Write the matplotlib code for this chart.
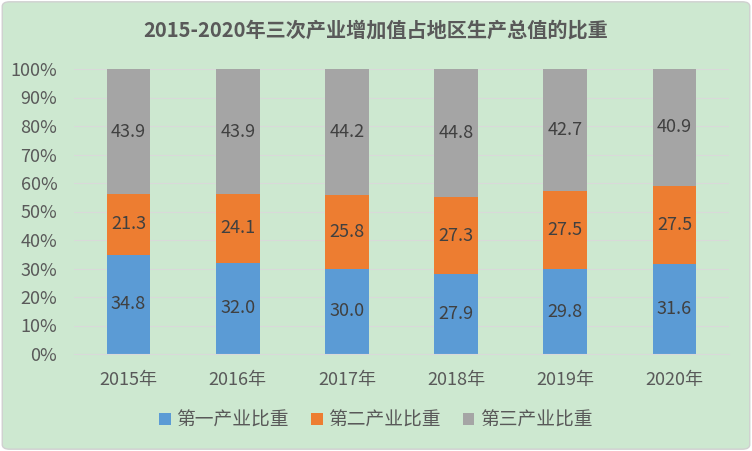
import matplotlib
matplotlib.use('Agg')
import matplotlib.pyplot as plt
import numpy as np
from matplotlib.patches import FancyBboxPatch

plt.rcParams['font.family'] = ['Noto Sans CJK SC', 'DejaVu Sans']

years = ['2015年', '2016年', '2017年', '2018年', '2019年', '2020年']
first = [34.8, 32.0, 30.0, 27.9, 29.8, 31.6]
second = [21.3, 24.1, 25.8, 27.3, 27.5, 27.5]
third = [43.9, 43.9, 44.2, 44.8, 42.7, 40.9]
names = ['第一产业比重', '第二产业比重', '第三产业比重']
colors = ['#5b9bd5', '#ed7d31', '#a5a5a5']
bg = '#cde8d0'
txt = '#595959'

fig = plt.figure(figsize=(7.52, 4.51), dpi=100)
fig.patch.set_facecolor('white')
frame = FancyBboxPatch((0.003, 0.004), 0.994, 0.992, boxstyle='round,pad=0,rounding_size=0.01',
                       transform=fig.transFigure, facecolor=bg, edgecolor='#d0d0d0', lw=1, zorder=-10)
fig.patches.append(frame)
ax = fig.add_axes([74/752, 1 - 354/451, 655/752, 285/451])
ax.set_facecolor('none')

x = np.arange(len(years))
bottom = np.zeros(len(years))
for vals, name, c in zip([first, second, third], names, colors):
    vals = np.array(vals)
    ax.bar(x, vals, 0.4, bottom=bottom, color=c, label=name, zorder=2)
    for xi, b, v in zip(x, bottom, vals):
        ax.text(xi, b + v / 2, '%.1f' % v, ha='center', va='center', fontsize=13, color='#404040', zorder=3)
    bottom = bottom + vals

ax.set_xlim(-0.5, len(years) - 0.5)
ax.set_ylim(0, 100)
ax.set_yticks(range(0, 101, 10))
ax.set_yticklabels(['%d%%' % v for v in range(0, 101, 10)])
ax.set_xticks(x)
ax.set_xticklabels(years)
ax.tick_params(axis='both', length=0, colors=txt, labelsize=13)
ax.tick_params(axis='y', pad=12)
ax.tick_params(axis='x', pad=12)
ax.grid(axis='y', color='#d9d9d9', lw=0.8, zorder=0)
for s in ax.spines.values():
    s.set_visible(False)
ax.spines['bottom'].set_visible(True)
ax.spines['bottom'].set_color('#d9d9d9')

fig.text(0.5, 1 - 30/451, '2015-2020年三次产业增加值占地区生产总值的比重', ha='center', va='center',
         fontsize=14.5, fontweight='bold', color=txt)
fig.legend(loc='center', bbox_to_anchor=(0.5, 1 - 420/451), ncol=3, frameon=False, fontsize=13.5,
           labelcolor=txt, handlelength=0.6, handleheight=0.6, columnspacing=1.2, handletextpad=0.3)

fig.savefig('out.png', dpi=100, facecolor=fig.get_facecolor())
